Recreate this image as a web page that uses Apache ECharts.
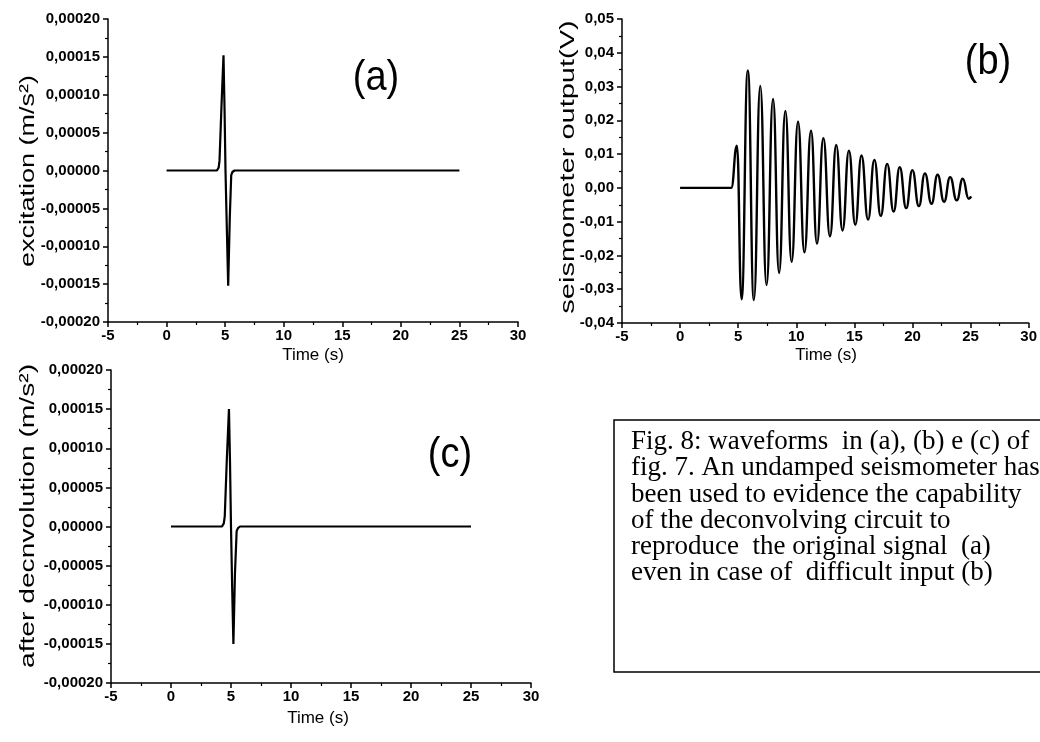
<!DOCTYPE html>
<html>
<head>
<meta charset="utf-8">
<script src="https://cdn.jsdelivr.net/npm/echarts@6/dist/echarts.min.js"></script>
<style>
  html, body { margin: 0; padding: 0; background: #fff; }
  #chart { width: 1040px; height: 742px; }
</style>
</head>
<body>
<div id="chart"></div>
<script>
// (a) excitation
var timeA = [0, 4.3, 4.38, 4.45, 4.52, 4.69, 4.86, 4.95, 5.03, 5.15, 5.26, 5.4, 5.52, 5.62, 5.8, 25];
var excitation = [0, 0, 0, 0.000004, 0.000013, 0.000086, 0.000152, 0.00008, 0, -0.00008, -0.000152, -0.00006, -0.000006, -0.000002, 0, 0];

// (b) seismometer output, peaks and troughs
var timeB = [0, 4.4, 4.89, 5.29, 5.83, 6.35, 6.90, 7.44, 8.00, 8.52, 9.06, 9.60, 10.15, 10.70, 11.27, 11.78,
  12.33, 12.90, 13.44, 13.98, 14.53, 15.08, 15.61, 16.18, 16.72, 17.27, 17.82, 18.38, 18.90, 19.46, 19.99,
  20.55, 21.07, 21.64, 22.16, 22.72, 23.24, 23.81, 24.33, 24.84, 25.05];
var output = [0, 0, 0.0125, -0.0330, 0.0348, -0.0332, 0.0302, -0.0288, 0.0263, -0.0252, 0.0228, -0.0219,
  0.0196, -0.0191, 0.0169, -0.0165, 0.0147, -0.0143, 0.0127, -0.0126, 0.0110, -0.0109, 0.0096, -0.0094,
  0.0083, -0.0083, 0.0071, -0.0070, 0.0061, -0.0060, 0.0052, -0.0054, 0.0043, -0.0047, 0.0039, -0.0041,
  0.0032, -0.0037, 0.0027, -0.0032, -0.0025];

// (c) after deconvolution
var timeC = [0, 4.25, 4.33, 4.4, 4.48, 4.65, 4.83, 4.92, 5.0, 5.1, 5.2, 5.33, 5.47, 5.58, 5.75, 25];
var deconv = [0, 0, 0, 0.000004, 0.000013, 0.000085, 0.00015, 0.00008, 0, -0.00008, -0.00015, -0.00006, -0.000006, -0.000002, 0, 0];

var timeTicks = {min: -5, max: 30, interval: 5};
var accTicks = {min: -0.0002, max: 0.0002, interval: 0.00005};
var voltTicks = {min: -0.04, max: 0.05, interval: 0.01};

var captionLines = [
  'Fig. 8: waveforms  in (a), (b) e (c) of',
  'fig. 7. An undamped seismometer has',
  'been used to evidence the capability',
  'of the deconvolving circuit to',
  'reproduce  the original signal  (a)',
  'even in case of  difficult input (b)'
];

function pairs(xs, ys) {
  var out = [];
  for (var i = 0; i < xs.length; i++) out.push([xs[i], ys[i]]);
  return out;
}
function comma(v, d) {
  if (Math.abs(v) < 1e-12) v = 0;
  return v.toFixed(d).replace('.', ',');
}

var SANS = '"Liberation Sans", Arial, sans-serif';
var lbl = {color: '#000', fontFamily: SANS, fontWeight: 'bold', fontSize: 15};

function xAx(idx) {
  return {
    type: 'value', gridIndex: idx,
    min: timeTicks.min, max: timeTicks.max, interval: timeTicks.interval,
    axisLine: {show: true, onZero: false, lineStyle: {color: '#000', width: 1.5}},
    axisTick: {show: true, inside: false, length: 5, lineStyle: {color: '#000', width: 1.5}},
    minorTick: {show: true, splitNumber: 2, length: 3, lineStyle: {color: '#000', width: 1.2}},
    splitLine: {show: false},
    axisLabel: Object.assign({margin: 6, formatter: function (v) { return String(v); }}, lbl)
  };
}
function yAx(idx, t, d) {
  return {
    type: 'value', gridIndex: idx,
    min: t.min, max: t.max, interval: t.interval,
    axisLine: {show: true, onZero: false, lineStyle: {color: '#000', width: 1.5}},
    axisTick: {show: true, inside: false, length: 5, lineStyle: {color: '#000', width: 1.5}},
    minorTick: {show: true, splitNumber: 2, length: 3, lineStyle: {color: '#000', width: 1.2}},
    splitLine: {show: false},
    axisLabel: Object.assign({margin: 8, formatter: function (v) { return comma(v, d); }}, lbl)
  };
}

function rotName(text, x, y, stretch) {
  return {
    type: 'text', x: x, y: y, rotation: Math.PI / 2, scaleX: stretch, scaleY: 1,
    style: {text: text, font: '20px ' + SANS, fill: '#000',
      textAlign: 'center', textVerticalAlign: 'middle', align: 'center', verticalAlign: 'middle'}
  };
}
function plainText(text, x, y, size, sy) {
  return {
    type: 'text', x: x, y: y, scaleY: sy || 1,
    style: {text: text, font: size + 'px ' + SANS, fill: '#000',
      textAlign: 'center', textVerticalAlign: 'middle', align: 'center', verticalAlign: 'middle'}
  };
}

var myChart = echarts.init(document.getElementById('chart'));
var option = {
  backgroundColor: '#fff',
  animation: false,
  grid: [
    {left: 108, top: 19, width: 410, height: 303},
    {left: 622, top: 19, width: 408, height: 304},
    {left: 111, top: 370, width: 420, height: 313}
  ],
  xAxis: [xAx(0), xAx(1), xAx(2)],
  yAxis: [yAx(0, accTicks, 5), yAx(1, voltTicks, 2), yAx(2, accTicks, 5)],
  series: [
    {type: 'line', xAxisIndex: 0, yAxisIndex: 0, data: pairs(timeA, excitation),
      showSymbol: false, lineStyle: {color: '#000', width: 2.2}},
    {type: 'line', xAxisIndex: 1, yAxisIndex: 1, data: pairs(timeB, output),
      showSymbol: false, smooth: 0.5, smoothMonotone: 'x', lineStyle: {color: '#000', width: 2.4}},
    {type: 'line', xAxisIndex: 2, yAxisIndex: 2, data: pairs(timeC, deconv),
      showSymbol: false, lineStyle: {color: '#000', width: 2.2}}
  ],
  graphic: [
    rotName('excitation (m/s\u00b2)', 28, 171, 1.35),
    rotName('seismometer output(V)', 568, 167, 1.45),
    rotName('after decnvolution (m/s\u00b2)', 28, 516, 1.41),
    plainText('Time (s)', 313, 355, 17),
    plainText('Time (s)', 826, 355, 17),
    plainText('Time (s)', 318, 718, 17),
    plainText('(a)', 376, 78, 38, 1.12),
    plainText('(b)', 988, 62, 38, 1.12),
    plainText('(c)', 450, 455, 38, 1.12),
    {type: 'rect', shape: {x: 614, y: 420, width: 440, height: 252},
      style: {fill: 'none', stroke: '#000', lineWidth: 1.5}},
    {type: 'text', x: 631, y: 429,
      style: {text: captionLines.join('\n'), font: '27px "Liberation Serif", "Times New Roman", serif',
        lineHeight: 26.2, fill: '#000', textAlign: 'left', textVerticalAlign: 'top', align: 'left', verticalAlign: 'top'}}
  ]
};
myChart.setOption(option);
window.addEventListener('resize', function () {
  myChart.resize();
});
</script>
</body>
</html>
